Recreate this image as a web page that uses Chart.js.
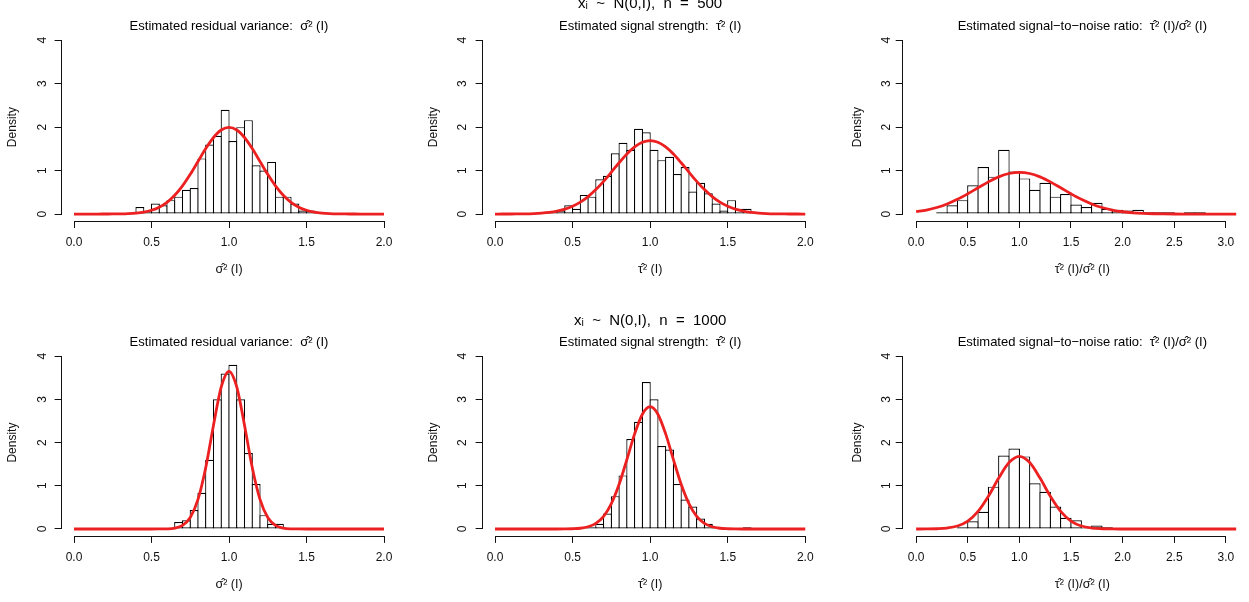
<!DOCTYPE html>
<html>
<head>
<meta charset="utf-8">
<script src="https://cdn.jsdelivr.net/npm/chart.js@4.4.1/dist/chart.umd.min.js"></script>
<style>
  html, body { margin: 0; padding: 0; background: #fff; overflow: hidden; width: 1249px; height: 602px; }
  .panel { position: absolute; }
</style>
</head>
<body>
<script>
Chart.defaults.font.family = "'Liberation Sans', Arial, Helvetica, 'DejaVu Sans', sans-serif";
Chart.defaults.color = '#000';

// histogram densities (one value per bin, starting at *From)
// n = 500
const sigma500From = 0.40;
const sigma500 = [0.16, 0.04, 0.24, 0.20, 0.32, 0.40, 0.56, 0.60, 1.28, 1.60, 1.80, 2.40,
                  1.68, 2.00, 2.16, 1.12, 1.00, 1.20, 0.40, 0.40, 0.24, 0.08, 0.08, 0.04];
const tau500From = 0.30;
const tau500 = [0.04, 0.04, 0.08, 0.20, 0.12, 0.44, 0.40, 0.80, 0.88, 1.40, 1.64, 1.48, 1.96, 1.88,
                1.48, 1.24, 1.32, 0.92, 1.08, 0.52, 0.72, 0.48, 0.24, 0.08, 0.32, 0.12, 0.12];
const snr500From = 0.20;
const snr500 = [0.04, 0.20, 0.32, 0.66, 1.08, 0.86, 1.48, 0.98, 0.82, 0.56, 0.72, 0.40, 0.46,
                0.22, 0.16, 0.26, 0.12, 0.10, 0.08, 0.10, 0.04, 0.04, 0.04, 0.02, 0.04, 0.04];
// n = 1000
const sigma1000From = 0.65;
const sigma1000 = [0.16, 0.20, 0.44, 0.84, 1.60, 3.00, 3.60, 3.80, 3.00, 1.76, 1.04, 0.32, 0.12, 0.12];
const tau1000From = 0.55;
const tau1000 = [0.04, 0.04, 0.12, 0.36, 0.76, 1.24, 2.08, 2.48, 3.40, 3.00, 1.92, 1.84, 1.04,
                 0.68, 0.52, 0.24, 0.12, 0.04, 0, 0, 0, 0.04];
const snr1000From = 0.40;
const snr1000 = [0.04, 0.18, 0.40, 0.98, 1.70, 1.86, 1.68, 1.06, 0.86, 0.52, 0.26, 0.20, 0.02,
                 0.08, 0.04, 0.02, 0.02, 0.02, 0, 0, 0.02];

// red curves, read at x = 0, 0.05, ..., 2 and x = 0, 0.1, ..., 3.1
const gridFine = Array.from({ length: 41 }, (_, i) => +(i * 0.05).toFixed(2));
const gridSnr = Array.from({ length: 32 }, (_, i) => +(i * 0.1).toFixed(1));

const sigma500Curve = [0, 0, 0, 0, 0.001, 0.002, 0.004, 0.010, 0.022, 0.045, 0.088, 0.159, 0.270, 0.432,
  0.648, 0.913, 1.210, 1.506, 1.761, 1.934, 1.995, 1.934, 1.761, 1.506, 1.210, 0.913, 0.648, 0.432,
  0.270, 0.159, 0.088, 0.045, 0.022, 0.010, 0.004, 0.002, 0.001, 0, 0, 0, 0];
const tau500Curve = [0, 0.001, 0.001, 0.003, 0.005, 0.011, 0.021, 0.038, 0.067, 0.112, 0.179, 0.274,
  0.402, 0.563, 0.753, 0.964, 1.180, 1.381, 1.545, 1.653, 1.690, 1.653, 1.545, 1.381, 1.180, 0.964,
  0.753, 0.563, 0.402, 0.274, 0.179, 0.112, 0.067, 0.038, 0.021, 0.011, 0.005, 0.003, 0.001, 0.001, 0];
const snr500Curve = [0.053, 0.092, 0.150, 0.232, 0.338, 0.466, 0.604, 0.740, 0.855, 0.933, 0.960,
  0.933, 0.855, 0.740, 0.604, 0.466, 0.338, 0.232, 0.150, 0.092, 0.053, 0.029, 0.015, 0.007, 0.003,
  0.001, 0, 0, 0, 0, 0, 0];
const sigma1000Curve = [0, 0, 0, 0, 0, 0, 0, 0, 0, 0, 0, 0.001, 0.004, 0.022, 0.084, 0.267, 0.684, 1.423,
  2.402, 3.288, 3.650, 3.288, 2.402, 1.423, 0.684, 0.267, 0.084, 0.022, 0.004, 0.001, 0, 0, 0, 0, 0, 0,
  0, 0, 0, 0, 0];
const tau1000Curve = [0, 0, 0, 0, 0, 0, 0, 0, 0, 0.001, 0.005, 0.017, 0.051, 0.130, 0.294, 0.588, 1.035,
  1.607, 2.201, 2.657, 2.830, 2.657, 2.201, 1.607, 1.035, 0.588, 0.294, 0.130, 0.051, 0.017, 0.005,
  0.001, 0, 0, 0, 0, 0, 0, 0, 0, 0];
const snr1000Curve = [0, 0.001, 0.006, 0.022, 0.069, 0.183, 0.407, 0.757, 1.178, 1.537, 1.680, 1.537,
  1.178, 0.757, 0.407, 0.183, 0.069, 0.022, 0.006, 0.001, 0, 0, 0, 0, 0, 0, 0, 0, 0, 0, 0, 0];

// tick labels
const xTicks2 = [0, 0.5, 1, 1.5, 2];
const xTicks3 = [0, 0.5, 1, 1.5, 2, 2.5, 3];
const yTicks = [0, 1, 2, 3, 4];

const RED = 'rgb(236, 32, 32)';
const INK = '#111';

function histData(from, width, dens) {
  return dens.map((d, i) => ({ x: +(from + width * (i + 0.5)).toFixed(3), y: d }));
}
function curveData(xs, ys) {
  return ys.map((y, i) => ({ x: xs[i], y: y }));
}

// R style axis line: only between first and last tick
const rAxisLines = {
  id: 'rAxisLines',
  afterDraw(chart) {
    const ctx = chart.ctx;
    const xs = chart.scales.x, ys = chart.scales.y;
    ctx.save();
    ctx.strokeStyle = INK;
    ctx.lineWidth = 1;
    ctx.beginPath();
    const yb = Math.round(xs.top) + 0.5;
    ctx.moveTo(xs.getPixelForValue(xs.ticks[0].value), yb);
    ctx.lineTo(xs.getPixelForValue(xs.ticks[xs.ticks.length - 1].value), yb);
    const xl = Math.round(ys.right) - 0.5;
    ctx.moveTo(xl, ys.getPixelForValue(ys.ticks[0].value));
    ctx.lineTo(xl, ys.getPixelForValue(ys.ticks[ys.ticks.length - 1].value));
    ctx.stroke();
    ctx.restore();
  }
};

const panels = [
  { box: [0, 0, 416, 300], pad: { left: 1.6, right: 19.6, top: 0, bottom: 19 }, xRange: [-0.08, 2.08], xTicks: xTicks2,
    main: null, mainPad: 0, sub: 'Estimated residual variance:  σ̂² (I)', subPad: 20.25,
    xTitle: 'σ̂² (I)', xTitlePad: 3.5, yTitlePad: 4.2, yTickPad: 8.7, barPct: 1.155,
    hist: histData(sigma500From, 0.05, sigma500), curve: curveData(gridFine, sigma500Curve) },
  { box: [416, -10, 416, 310], pad: { left: 6.6, right: 14.3, top: 0, bottom: 19 }, xRange: [-0.08, 2.08], xTicks: xTicks2,
    main: 'xᵢ  ~  N(0,I),  n  =  500', mainPad: 6.5, sub: 'Estimated signal strength:  τ̂² (I)', subPad: 8.75,
    xTitle: 'τ̂² (I)', xTitlePad: 3.5, yTitlePad: 4.2, yTickPad: 9.7, barPct: 1.155,
    hist: histData(tau500From, 0.05, tau500), curve: curveData(gridFine, tau500Curve) },
  { box: [832, 0, 440, 300], pad: { left: 10.7, right: 10, top: 0, bottom: 19 }, xRange: [-0.13, 3.35], xTicks: xTicks3,
    main: null, mainPad: 0, sub: 'Estimated signal−to−noise ratio:  τ̂² (I)/σ̂² (I)', subPad: 20.25,
    xTitle: 'τ̂² (I)/σ̂² (I)', xTitlePad: 3.5, yTitlePad: 7.6, yTickPad: 5.7, barPct: 1.116,
    hist: histData(snr500From, 0.1, snr500), curve: curveData(gridSnr, snr500Curve) },
  { box: [0, 300, 416, 302], pad: { left: 1.6, right: 19.6, top: 0, bottom: 6.1 }, xRange: [-0.08, 2.08], xTicks: xTicks2,
    main: null, mainPad: 0, sub: 'Estimated residual variance:  σ̂² (I)', subPad: 36.25,
    xTitle: 'σ̂² (I)', xTitlePad: 3.4, yTitlePad: 4.2, yTickPad: 8.7, barPct: 1.155,
    hist: histData(sigma1000From, 0.05, sigma1000), curve: curveData(gridFine, sigma1000Curve) },
  { box: [416, 300, 416, 302], pad: { left: 6.6, right: 14.3, top: 0, bottom: 6.1 }, xRange: [-0.08, 2.08], xTicks: xTicks2,
    main: 'xᵢ  ~  N(0,I),  n  =  1000', mainPad: 13.2, sub: 'Estimated signal strength:  τ̂² (I)', subPad: 8.05,
    xTitle: 'τ̂² (I)', xTitlePad: 3.4, yTitlePad: 4.2, yTickPad: 9.7, barPct: 1.155,
    hist: histData(tau1000From, 0.05, tau1000), curve: curveData(gridFine, tau1000Curve) },
  { box: [832, 300, 440, 302], pad: { left: 10.7, right: 10, top: 0, bottom: 6.1 }, xRange: [-0.13, 3.35], xTicks: xTicks3,
    main: null, mainPad: 0, sub: 'Estimated signal−to−noise ratio:  τ̂² (I)/σ̂² (I)', subPad: 36.25,
    xTitle: 'τ̂² (I)/σ̂² (I)', xTitlePad: 3.4, yTitlePad: 7.6, yTickPad: 5.7, barPct: 1.116,
    hist: histData(snr1000From, 0.1, snr1000), curve: curveData(gridSnr, snr1000Curve) }
];

panels.forEach(p => {
  const div = document.createElement('div');
  div.className = 'panel';
  div.style.left = p.box[0] + 'px';
  div.style.top = p.box[1] + 'px';
  div.style.width = p.box[2] + 'px';
  div.style.height = p.box[3] + 'px';
  const canvas = document.createElement('canvas');
  div.appendChild(canvas);
  document.body.appendChild(div);

  new Chart(canvas, {
    type: 'bar',
    data: {
      datasets: [
        {
          type: 'line',
          data: p.curve,
          borderColor: RED,
          borderWidth: 2.8,
          pointRadius: 0,
          fill: false,
          cubicInterpolationMode: 'monotone',
          order: 0
        },
        {
          type: 'bar',
          data: p.hist,
          backgroundColor: '#fff',
          borderColor: '#000',
          borderWidth: 1.2,
          borderSkipped: false,
          barPercentage: p.barPct,
          categoryPercentage: 1,
          order: 1
        }
      ]
    },
    options: {
      responsive: true,
      maintainAspectRatio: false,
      animation: false,
      layout: { padding: p.pad },
      plugins: {
        legend: { display: false },
        tooltip: { enabled: false },
        title: {
          display: !!p.main,
          text: p.main || '',
          fullSize: false,
          color: '#000',
          font: { size: 15, weight: 'normal', lineHeight: 1 },
          padding: { top: p.mainPad, bottom: 0 }
        },
        subtitle: {
          display: true,
          text: p.sub,
          fullSize: false,
          color: '#000',
          font: { size: 13, lineHeight: 1 },
          padding: { top: p.subPad, bottom: 0 }
        }
      },
      scales: {
        x: {
          type: 'linear',
          min: p.xRange[0],
          max: p.xRange[1],
          offset: false,
          border: { display: false },
          grid: { offset: false, drawOnChartArea: false, drawTicks: true, tickLength: 7, color: INK },
          ticks: {
            autoSkip: false, maxRotation: 0, padding: 7.8, color: INK,
            font: { size: 12 },
            callback: v => Number(v).toFixed(1)
          },
          afterBuildTicks: s => { s.ticks = p.xTicks.map(v => ({ value: v })); },
          afterFit: s => { s.height = 60; },
          title: {
            display: true, text: p.xTitle, color: INK,
            font: { size: 12.5 }, padding: { top: 0, bottom: p.xTitlePad }
          }
        },
        y: {
          type: 'linear',
          min: -0.16,
          max: 4.16,
          border: { display: false },
          grid: { drawOnChartArea: false, drawTicks: true, tickLength: 7, color: INK },
          ticks: {
            autoSkip: false, minRotation: 90, maxRotation: 90, crossAlign: 'center',
            padding: p.yTickPad, color: INK, font: { size: 12 },
            callback: v => String(v)
          },
          afterBuildTicks: s => { s.ticks = yTicks.map(v => ({ value: v })); },
          afterFit: s => { s.width = 60; },
          title: {
            display: true, text: 'Density', color: INK,
            font: { size: 12 }, padding: { top: p.yTitlePad, bottom: 0 }
          }
        }
      }
    },
    plugins: [rAxisLines]
  });
});
</script>
</body>
</html>
